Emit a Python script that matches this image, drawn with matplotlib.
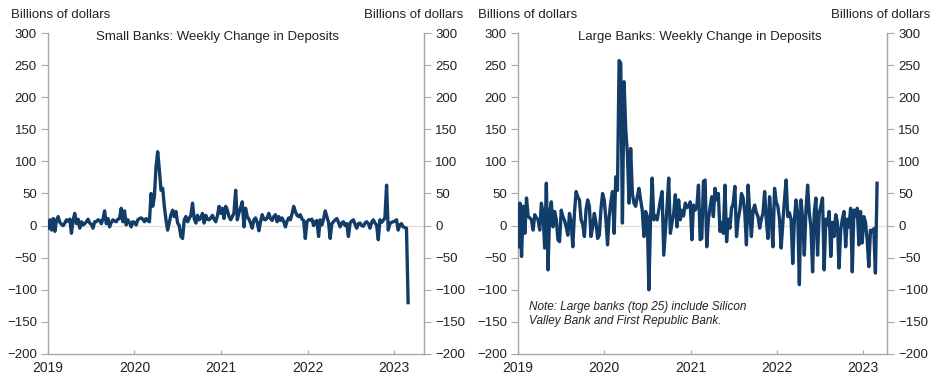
import matplotlib
matplotlib.use("Agg")
import matplotlib.pyplot as plt
import pandas as pd

# weekly change in deposits, billions of dollars, weeks from early Jan 2019
small_banks = [
    -4, 9, -7, 11, -9, 9, 14, 5, 2, 0,
    4, 9, 7, 10, -12, 9, 19, 3, 10, -4,
    6, 1, 3, 6, 10, 4, 2, -4, 6, 6,
    9, 8, 3, 10, 23, 3, 11, -2, 5, 9,
    7, 6, 10, 11, 27, 6, 23, 1, 9, 5,
    -2, 6, 5, 1, 9, 11, 12, 10, 6, 11,
    8, 6, 50, 30, 45, 92, 115, 87, 55, 58,
    30, 9, -7, 5, 17, 24, 14, 22, 4, 0,
    -17, -20, 9, 14, 6, 11, 16, 35, 11, 4,
    16, 9, 12, 19, 4, 16, 10, 9, 12, 16,
    10, 6, 15, 30, 19, 27, 11, 30, 24, 14,
    9, 14, 20, 55, 9, 20, 28, 37, -2, 27,
    14, 10, 4, -4, 9, 12, 5, -8, 6, 17,
    10, 9, 12, 19, 11, 8, 14, 17, 6, 14,
    8, 12, 6, -2, 7, 12, 9, 18, 30, 22,
    16, 14, 17, 10, 8, -20, 6, 9, 9, 10,
    0, 6, 8, -17, 9, 1, 10, 23, 14, 5,
    -20, 3, 6, 9, 11, 5, -2, 4, 6, 0,
    3, -17, 4, 7, 9, 2, -4, 3, 4, 0,
    -1, 4, 6, 3, -4, 5, 9, 4, 1, -22,
    9, 5, 8, 12, 63, -7, 3, 5, 6, 7,
    9, -7, 1, 3, -2, -3, -4, -120,
]

large_banks = [
    -33, 35, -48, 30, -12, 43, 14, 12, 9, -7,
    17, 12, 9, -7, 35, 19, -35, 66, -69, 19,
    37, -2, 22, 10, -22, -25, 24, 14, 8, -2,
    -15, 19, 5, -33, 20, 53, 45, 40, 9, 2,
    -17, 25, 40, 30, -17, -2, 19, 5, -20, -15,
    25, 50, 40, 10, -30, 14, 37, 53, -12, 76,
    55, 257, 253, 4, 224, 150, 113, 35, 120, 50,
    35, 30, 45, 58, 40, 24, -17, 22, 15, -100,
    10, 74, 9, 15, 9, 25, 40, 53, -46, -7,
    30, 74, -12, 5, 19, 48, -2, 40, 9, 24,
    15, 35, 28, 30, 37, -22, 32, 24, 30, 63,
    -22, -20, 69, 71, -33, 10, 27, 45, 14, 58,
    40, 50, -9, 5, -12, 63, -25, 10, -4, 27,
    35, 61, -17, 10, 24, 50, 43, 20, -30, 63,
    20, -17, 24, 32, 20, 14, -4, 10, 19, 53,
    10, -20, 45, 10, -33, 58, 37, 30, 10, -35,
    4, 40, 71, 14, 20, 9, -59, 10, 40, 19,
    -92, 40, 10, -46, 24, 63, 20, -2, -72, 20,
    43, -46, 19, 30, 43, -69, 10, 1, 22, -48,
    5, -17, 17, 5, -66, -7, 10, 22, -33, 10,
    -2, 27, -72, 24, 15, 27, -30, 22, -27, 14,
    5, -22, -64, -7, -9, -5, -74, 66,
]

first_week = "2019-01-02"
years = [2019, 2020, 2021, 2022, 2023]
y_ticks = [-200, -150, -100, -50, 0, 50, 100, 150, 200, 250, 300]
small_title = "Small Banks: Weekly Change in Deposits"
large_title = "Large Banks: Weekly Change in Deposits"
note = "Note: Large banks (top 25) include Silicon\nValley Bank and First Republic Bank."

line_color = "#123d69"
spine_color = "#a6a6a6"
text_color = "#222222"

plt.rcParams["font.family"] = ["Liberation Sans", "DejaVu Sans"]
plt.rcParams["font.size"] = 9

W, H = 933, 379
fig = plt.figure(figsize=(W / 100, H / 100), dpi=100)


def panel(left_px, width_px, values, title, title_x, x_end):
    ax = fig.add_axes([left_px / W, 1 - 354 / H, width_px / W, 321 / H])
    dates = pd.date_range(first_week, periods=len(values), freq="7D")
    ax.axhline(0, color="#e3ded6", lw=0.9, zorder=1)
    ax.plot(dates, values, color=line_color, lw=2.4, zorder=3)
    ax.set_xlim(pd.Timestamp("2019-01-01"), pd.Timestamp(x_end))
    ax.set_ylim(-200, 300)
    ax.set_yticks(y_ticks)
    ax.set_xticks([pd.Timestamp(f"{y}-01-01") for y in years])
    ax.set_xticklabels([str(y) for y in years], fontsize=10)
    ax.tick_params(axis="x", direction="in", length=3, pad=5,
                   color=spine_color, labelcolor=text_color)
    ax.tick_params(axis="y", direction="out", length=5, pad=3,
                   color=spine_color, labelcolor=text_color, labelsize=9.5)
    ax.spines["top"].set_visible(False)
    for s in ("left", "right", "bottom"):
        ax.spines[s].set_color(spine_color)
        ax.spines[s].set_linewidth(1.0)

    twin = ax.twinx()
    twin.set_ylim(-200, 300)
    twin.set_yticks(y_ticks)
    twin.tick_params(axis="y", direction="out", length=5, pad=3,
                     color=spine_color, labelcolor=text_color, labelsize=9.5)
    for s in ("top", "left", "bottom"):
        twin.spines[s].set_visible(False)
    twin.spines["right"].set_color(spine_color)

    ax.text(title_x, 0.988, title, transform=ax.transAxes, ha="center",
            va="center", fontsize=9.5, color=text_color)
    return ax


ax1 = panel(48, 376, small_banks, small_title, 0.452, "2023-05-07")
ax2 = panel(518, 369, large_banks, large_title, 0.493, "2023-04-12")

ax2.text(0.03, 0.125, note, transform=ax2.transAxes, ha="left", va="center",
         fontsize=8.5, style="italic", color=text_color, linespacing=1.3)

label = "Billions of dollars"
fig.text(11 / W, 1 - 15 / H, label, ha="left", va="center", fontsize=9.5, color=text_color)
fig.text(463 / W, 1 - 15 / H, label, ha="right", va="center", fontsize=9.5, color=text_color)
fig.text(478 / W, 1 - 15 / H, label, ha="left", va="center", fontsize=9.5, color=text_color)
fig.text(930 / W, 1 - 15 / H, label, ha="right", va="center", fontsize=9.5, color=text_color)

fig.savefig("out.png", dpi=100)
